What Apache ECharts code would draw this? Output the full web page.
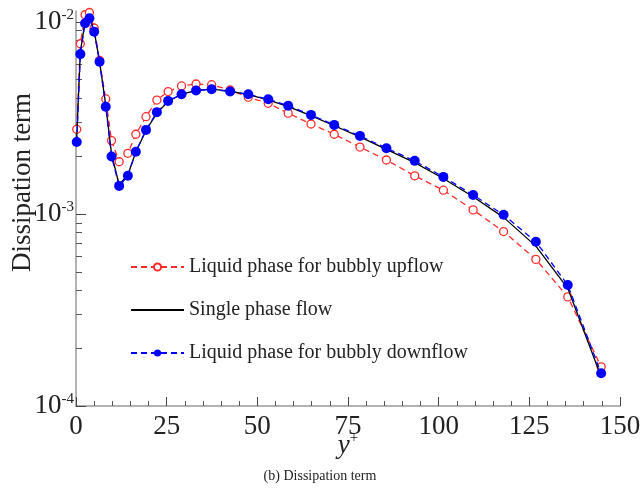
<!DOCTYPE html>
<html>
<head>
<meta charset="utf-8">
<script src="https://cdn.jsdelivr.net/npm/echarts@6/dist/echarts.min.js"></script>
<style>html,body{margin:0;padding:0;background:#fff;}#c{width:640px;height:493px;}</style>
</head>
<body>
<div id="c"></div>
<script>
// y+ positions of the data points
const yPlus = [0.2, 1.2, 2.5, 3.7, 5.0, 6.5, 8.2, 9.8, 11.9, 14.3, 16.5, 19.3, 22.3, 25.4, 29.1, 33.1, 37.4, 42.5, 47.5, 53.0, 58.5, 64.8, 71.2, 78.3, 85.6, 93.4, 101.3, 109.5, 117.9, 126.8, 135.6, 144.8];
// Liquid phase for bubbly upflow
const upflow = [2.76e-3, 7.7e-3, 1.09e-2, 1.12e-2, 9.3e-3, 6.3e-3, 3.97e-3, 2.41e-3, 1.87e-3, 2.07e-3, 2.6e-3, 3.21e-3, 3.92e-3, 4.34e-3, 4.64e-3, 4.75e-3, 4.71e-3, 4.42e-3, 4.05e-3, 3.77e-3, 3.35e-3, 2.94e-3, 2.6e-3, 2.23e-3, 1.91e-3, 1.58e-3, 1.33e-3, 1.05e-3, 8.1e-4, 5.8e-4, 3.7e-4, 1.6e-4];
// Single phase flow
const single = [2.5e-3, 7.0e-3, 1.0e-2, 1.06e-2, 9.0e-3, 6.2e-3, 3.7e-3, 2.05e-3, 1.42e-3, 1.6e-3, 2.1e-3, 2.72e-3, 3.35e-3, 3.85e-3, 4.2e-3, 4.4e-3, 4.47e-3, 4.36e-3, 4.18e-3, 3.93e-3, 3.62e-3, 3.25e-3, 2.88e-3, 2.52e-3, 2.17e-3, 1.85e-3, 1.53e-3, 1.23e-3, 9.6e-4, 6.8e-4, 4.1e-4, 1.42e-4];
// Liquid phase for bubbly downflow
const downflow = [2.37e-3, 6.8e-3, 9.85e-3, 1.045e-2, 8.9e-3, 6.2e-3, 3.62e-3, 1.99e-3, 1.40e-3, 1.58e-3, 2.11e-3, 2.74e-3, 3.39e-3, 3.88e-3, 4.2e-3, 4.39e-3, 4.46e-3, 4.34e-3, 4.2e-3, 3.96e-3, 3.66e-3, 3.28e-3, 2.91e-3, 2.55e-3, 2.2e-3, 1.89e-3, 1.56e-3, 1.256e-3, 9.9e-4, 7.17e-4, 4.27e-4, 1.48e-4];

const seriesNames = ['Liquid phase for bubbly upflow', 'Single phase flow', 'Liquid phase for bubbly downflow'];
const xTicks = [0, 25, 50, 75, 100, 125, 150];
const yDecades = [-4, -3, -2];   // 10^-4, 10^-3, 10^-2
const yMaxValue = 0.0114;

const minorY = [];
[-4, -3].forEach(n => { for (let k = 2; k <= 9; k++) minorY.push(Math.log10(k) + n); });

const toPts = arr => arr.map((v, i) => [yPlus[i], Math.log10(v)]);
const serif = 'Liberation Serif';

const chart = echarts.init(document.getElementById('c'), null, {renderer: 'canvas'});
chart.setOption({
  animation: false,
  backgroundColor: '#fff',
  title: {
    text: '(b) Dissipation term', left: 'center', top: 464,
    textStyle: {fontFamily: serif, fontSize: 14, fontWeight: 'normal', color: '#222'}
  },
  grid: {left: 76, right: 20, top: 11, bottom: 87, containLabel: false, outerBoundsMode: 'none'},
  legend: {
    orient: 'vertical', left: 125, top: 252, itemWidth: 53, itemHeight: 9, itemGap: 23, itemTextGap: 5,
    textStyle: {fontFamily: serif, fontSize: 20, color: '#222'},
    data: [seriesNames[0], {name: seriesNames[1], itemStyle: {opacity: 0}}, seriesNames[2]]
  },
  xAxis: {
    type: 'value', min: 0, max: 150, interval: 25,
    name: '{i|y}{s|+}', nameLocation: 'middle', nameGap: 25, nameMoveOverlap: false,
    nameTextStyle: {rich: {
      i: {fontFamily: serif, fontStyle: 'italic', fontSize: 27, color: '#222'},
      s: {fontFamily: serif, fontSize: 15, color: '#222', padding: [0, 0, 14, 0]}
    }},
    axisLine: {lineStyle: {color: '#999', width: 1.5}},
    axisTick: {inside: true, length: 9, lineStyle: {color: '#444'}},
    minorTick: {show: true, splitNumber: 5, length: 5, lineStyle: {color: '#555'}},
    splitLine: {show: false},
    axisLabel: {fontFamily: serif, fontSize: 27, color: '#222', margin: 7}
  },
  yAxis: [{
    type: 'value', min: -4, max: Math.log10(yMaxValue),
    name: 'Dissipation term', nameLocation: 'middle', nameGap: 40, nameMoveOverlap: false,
    nameTextStyle: {fontFamily: serif, fontSize: 27, color: '#222', padding: [0, 0, 0, 52]},
    axisLine: {lineStyle: {color: '#999', width: 1.5}},
    axisTick: {inside: true, length: 10, customValues: yDecades, lineStyle: {color: '#444'}},
    splitLine: {show: false},
    axisLabel: {
      customValues: yDecades, margin: 2,
      formatter: v => '{b|10}{s|' + Math.round(v) + '}',
      rich: {
        b: {fontFamily: serif, fontSize: 27, color: '#222'},
        s: {fontFamily: serif, fontSize: 15, color: '#222', padding: [0, 0, 14, 0]}
      }
    }
  }, {
    type: 'value', min: -4, max: Math.log10(yMaxValue), position: 'left',
    axisLine: {show: false},
    axisTick: {inside: true, length: 6, customValues: minorY, lineStyle: {color: '#555'}},
    axisLabel: {show: false},
    splitLine: {show: false}
  }],
  series: [{
    name: seriesNames[0], type: 'line', data: toPts(upflow), clip: false,
    symbol: 'circle', symbolSize: 8,
    itemStyle: {color: '#fff', borderColor: '#ff2a2a', borderWidth: 1.3},
    lineStyle: {color: '#ff2a2a', width: 1.3, type: [6, 4]},
    z: 2
  }, {
    name: seriesNames[1], type: 'line', data: toPts(single), clip: false,
    symbol: 'none', showSymbol: false,
    itemStyle: {color: '#000'},
    lineStyle: {color: '#000', width: 1.3},
    z: 3
  }, {
    name: seriesNames[2], type: 'line', data: toPts(downflow), clip: false,
    symbol: 'circle', symbolSize: 10,
    itemStyle: {color: '#0000ff'},
    lineStyle: {color: '#0000ff', width: 1.3, type: [6, 4]},
    z: 4
  }]
});
</script>
</body>
</html>
